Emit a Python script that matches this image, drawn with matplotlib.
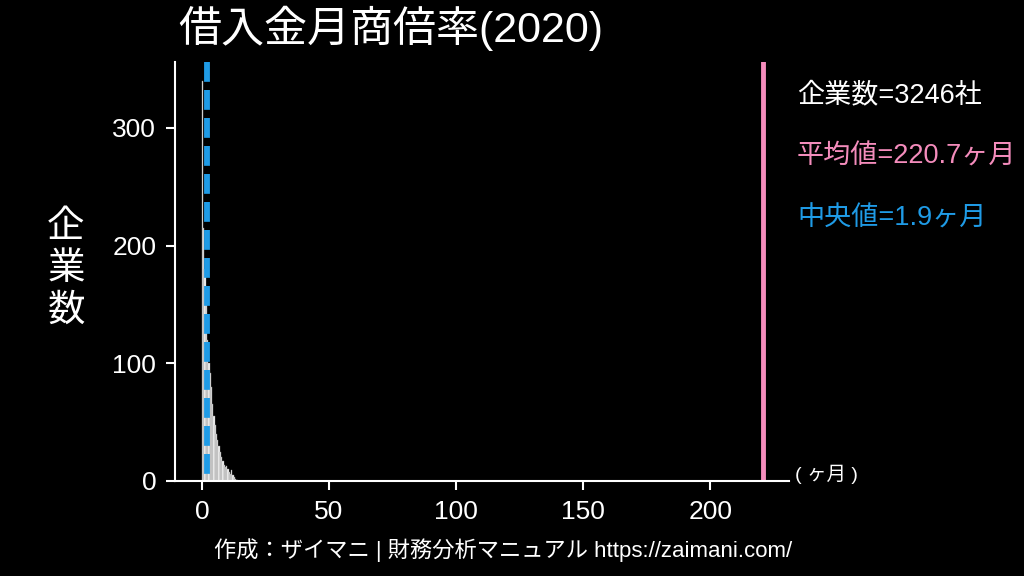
import matplotlib
matplotlib.use("Agg")
import matplotlib.pyplot as plt
import numpy as np

plt.rcParams['font.family'] = ['Liberation Sans', 'Noto Sans CJK JP']

# 借入金月商倍率のヒストグラム（0.5ヶ月刻み）
bin_left = np.arange(0, 14, 0.5)
counts = [340, 215, 180, 155, 120, 100, 92, 80, 65, 55, 48, 40, 35, 30,
          25, 20, 17, 14, 12, 13, 10, 8, 6, 9, 5, 3, 2, 1]
bin_width = 0.5

n_companies = 3246
mean_val = 220.7
median_val = 1.9

pink = '#f48cbc'
blue = '#1f9be6'

fig = plt.figure(figsize=(10.24, 5.76), dpi=100, facecolor='black')
ax = fig.add_axes([175 / 1024, 1 - 481 / 576, (789 - 175) / 1024, (481 - 62) / 576])
ax.set_facecolor('black')

ax.bar(bin_left, counts, width=bin_width, align='edge', color='white',
       edgecolor='#909090', linewidth=0.3)
ax.axvline(mean_val, color=pink, linewidth=3.5)
# 中央値の線は上から点線を描く
ax.plot([median_val, median_val], [1, 0], transform=ax.get_xaxis_transform(),
        color=blue, linewidth=4.2, linestyle=(0, (3.4, 1.4)))

ax.set_xlim(-10.6, 231)
ax.set_ylim(0, 356)
ax.set_xticks([0, 50, 100, 150, 200])
ax.set_yticks([0, 100, 200, 300])

for s in ['top', 'right']:
    ax.spines[s].set_visible(False)
for s in ['left', 'bottom']:
    ax.spines[s].set_color('white')
    ax.spines[s].set_linewidth(1.5)
ax.tick_params(colors='white', labelsize=19, width=1.5, length=6.5, pad=7)

fig.text(178 / 1024, 1 - 28 / 576, '借入金月商倍率(2020)', color='white',
         fontsize=31, va='center', ha='left')
fig.text(66 / 1024, 1 - 269 / 576, '企\n業\n数', color='white', fontsize=27,
         va='center', ha='center', linespacing=1.2)

fig.text(797 / 1024, 1 - 95 / 576, f'企業数={n_companies}社', color='white',
         fontsize=19.5, va='center', ha='left')
fig.text(797 / 1024, 1 - 157 / 576, f'平均値={mean_val}ヶ月', color=pink,
         fontsize=19.5, va='center', ha='left')
fig.text(797 / 1024, 1 - 219 / 576, f'中央値={median_val}ヶ月', color=blue,
         fontsize=19.5, va='center', ha='left')
fig.text(795 / 1024, 1 - 474 / 576, '( ヶ月 )', color='white',
         fontsize=14, va='center', ha='left')

fig.text(503 / 1024, 1 - 550 / 576,
         '作成：ザイマニ | 財務分析マニュアル https://zaimani.com/',
         color='white', fontsize=16, va='center', ha='center')

fig.savefig('out.png', dpi=100, facecolor='black')
